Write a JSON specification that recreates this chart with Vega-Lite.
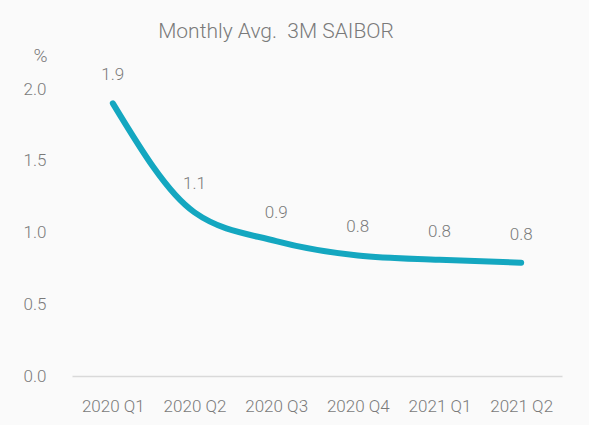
{
  "$schema": "https://vega.github.io/schema/vega-lite/v6.json",
  "autosize": "none",
  "padding": {"left": 72, "top": 89, "right": 27, "bottom": 49},
  "width": 490,
  "height": 287,
  "background": "#fafafa",
  "config": {
    "view": {"stroke": null},
    "font": "Roboto"
  },
  "title": {
    "text": "Monthly Avg.\u00a0 3M SAIBOR",
    "anchor": "middle",
    "frame": "group",
    "dx": -41,
    "fontSize": 21,
    "fontWeight": 300,
    "color": "#7a7a7a",
    "offset": 4
  },
  "data": {
    "values": [
      {"quarter": "2020 Q1", "rate": 1.90},
      {"quarter": "2020 Q2", "rate": 1.14},
      {"quarter": "2020 Q3", "rate": 0.94},
      {"quarter": "2020 Q4", "rate": 0.84},
      {"quarter": "2021 Q1", "rate": 0.81},
      {"quarter": "2021 Q2", "rate": 0.79}
    ]
  },
  "encoding": {
    "x": {
      "field": "quarter",
      "type": "ordinal",
      "sort": null,
      "scale": {"type": "point", "padding": 0.5},
      "axis": {
        "title": null,
        "labelAngle": 0,
        "labelFontSize": 17,
        "labelFontWeight": 300,
        "labelColor": "#7a7a7a",
        "labelPadding": 22,
        "ticks": false,
        "domainColor": "#d9d9d9",
        "domainWidth": 1.5,
        "grid": false
      }
    },
    "y": {
      "field": "rate",
      "type": "quantitative",
      "scale": {"domain": [0, 2], "nice": false},
      "axis": {
        "values": [0, 0.5, 1, 1.5, 2],
        "format": ".1f",
        "title": "%",
        "titleAngle": 0,
        "titleX": -32,
        "titleY": -34,
        "titleAlign": "center",
        "titleBaseline": "middle",
        "titleFontSize": 19,
        "titleFontWeight": 300,
        "titleColor": "#7a7a7a",
        "labelFontSize": 17,
        "labelFontWeight": 300,
        "labelColor": "#7a7a7a",
        "labelPadding": 26,
        "ticks": false,
        "domain": false,
        "grid": false
      }
    }
  },
  "layer": [
    {
      "mark": {"type": "line", "interpolate": "monotone", "color": "#14a7c0", "strokeWidth": 6, "strokeCap": "round"}
    },
    {
      "mark": {"type": "text", "dy": -28, "fontSize": 17, "fontWeight": 300, "color": "#7a7a7a", "baseline": "middle"},
      "encoding": {
        "text": {"field": "rate", "type": "quantitative", "format": ".1f"}
      }
    }
  ]
}
